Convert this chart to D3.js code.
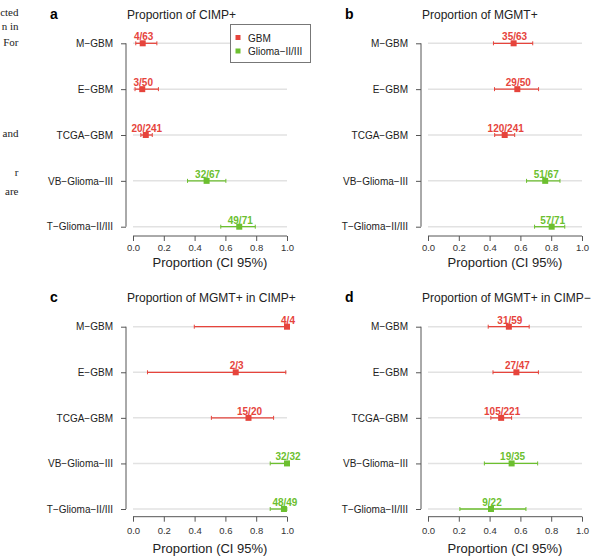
<!DOCTYPE html>
<html>
<head>
<meta charset="utf-8">
<script src="https://cdn.jsdelivr.net/npm/d3@7"></script>
<style>
  body { margin: 0; background: #fff; }
  text { font-family: "Liberation Sans", Arial, sans-serif; }
</style>
</head>
<body>
<div id="my_dataviz"></div>
<script>
// data
var categories = ["M\u2212GBM", "E\u2212GBM", "TCGA\u2212GBM", "VB\u2212Glioma\u2212III", "T\u2212Glioma\u2212II/III"];
var groups = ["GBM", "GBM", "GBM", "Glioma", "Glioma"];
var legendLabels = ["GBM", "Glioma\u2212II/III"];
var xTicks = [0, 0.2, 0.4, 0.6, 0.8, 1.0];

var countsA = ["4/63", "3/50", "20/241", "32/67", "49/71"];
var propA = [0.063, 0.060, 0.083, 0.478, 0.690];
var lowA = [0.018, 0.013, 0.051, 0.354, 0.570];
var highA = [0.155, 0.165, 0.125, 0.603, 0.794];

var countsB = ["35/63", "29/50", "120/241", "51/67", "57/71"];
var propB = [0.556, 0.580, 0.498, 0.761, 0.803];
var lowB = [0.425, 0.432, 0.433, 0.640, 0.692];
var highB = [0.680, 0.718, 0.563, 0.857, 0.888];

var countsC = ["4/4", "2/3", "15/20", "32/32", "48/49"];
var propC = [1.0, 0.667, 0.750, 1.0, 0.980];
var lowC = [0.398, 0.094, 0.509, 0.891, 0.891];
var highC = [1.0, 0.992, 0.913, 1.0, 0.999];

var countsD = ["31/59", "27/47", "105/221", "19/35", "9/22"];
var propD = [0.525, 0.574, 0.475, 0.543, 0.409];
var lowD = [0.391, 0.422, 0.408, 0.366, 0.207];
var highD = [0.657, 0.717, 0.543, 0.712, 0.636];

var color = d3.scaleOrdinal().domain(["GBM", "Glioma"]).range(["#e6443c", "#6cbf2f"]);
var axisColor = "#555";

var svg = d3.select("#my_dataviz")
  .append("svg")
    .attr("width", 594)
    .attr("height", 559);

// cropped text from the page beside the figure
var pageText = [["cted", 12], ["n in", 26], ["For", 42], ["and", 133], ["r", 172], ["are", 191]];
svg.selectAll("pagetext")
  .data(pageText)
  .enter()
  .append("text")
    .attr("x", 18.5)
    .attr("y", function(d) { return d[1] + 4; })
    .attr("text-anchor", "end")
    .style("font-family", "'Liberation Serif', 'Times New Roman', serif")
    .style("font-size", "11px")
    .attr("fill", "#222")
    .text(function(d) { return d[0]; });

function drawPanel(ox, oy, letter, title, counts, prop, low, high, yTop, yBot, axisY, tickGap, titleGap) {
  var g = svg.append("g").attr("transform", "translate(" + ox + "," + oy + ")");

  var x = d3.scaleLinear().domain([0, 1]).range([133, 287]);
  var y = d3.scalePoint().domain(categories).range([yTop, yBot]);

  var rows = categories.map(function(c, i) {
    return {cat: c, grp: groups[i], n: counts[i], p: prop[i], lo: low[i], hi: high[i]};
  });

  g.append("text")
    .attr("x", 50).attr("y", 19)
    .style("font-size", "14px").style("font-weight", "bold")
    .text(letter);
  g.append("text")
    .attr("x", 127).attr("y", 19)
    .style("font-size", "12px")
    .attr("fill", "#222")
    .text(title);

  // light guide line for each row
  g.selectAll("guide")
    .data(rows)
    .enter()
    .append("line")
      .attr("x1", x(0)).attr("x2", x(1))
      .attr("y1", function(d) { return y(d.cat); })
      .attr("y2", function(d) { return y(d.cat); })
      .attr("stroke", "#e2e2e2")
      .attr("stroke-width", 1.5);

  // y axis
  var yAxis = g.append("g")
    .attr("transform", "translate(126,0)")
    .call(d3.axisLeft(y).tickSize(5).tickPadding(8));
  yAxis.select(".domain").attr("d", "M0," + yTop + "V" + yBot).attr("stroke", axisColor);
  yAxis.selectAll(".tick line").attr("stroke", axisColor);
  yAxis.selectAll(".tick text")
    .style("font-size", "10px")
    .style("font-family", "'Liberation Sans', Arial, sans-serif")
    .attr("fill", "#222");

  // x axis
  var xAxis = g.append("g")
    .attr("transform", "translate(0," + axisY + ")")
    .call(d3.axisBottom(x).tickValues(xTicks).tickFormat(d3.format(".1f")).tickSize(5).tickPadding(tickGap));
  xAxis.select(".domain").attr("d", "M" + x(0) + ",0H" + x(1)).attr("stroke", axisColor);
  xAxis.selectAll(".tick line").attr("stroke", axisColor);
  xAxis.selectAll(".tick text")
    .style("font-size", "9.5px")
    .style("font-family", "'Liberation Sans', Arial, sans-serif")
    .attr("fill", "#333");

  g.append("text")
    .attr("x", (x(0) + x(1)) / 2)
    .attr("y", axisY + titleGap)
    .attr("text-anchor", "middle")
    .style("font-size", "13px")
    .attr("fill", "#222")
    .text("Proportion (CI 95%)");

  // confidence intervals
  g.selectAll("ci")
    .data(rows)
    .enter()
    .append("line")
      .attr("x1", function(d) { return x(d.lo); })
      .attr("x2", function(d) { return x(d.hi); })
      .attr("y1", function(d) { return y(d.cat); })
      .attr("y2", function(d) { return y(d.cat); })
      .attr("stroke", function(d) { return color(d.grp); })
      .attr("stroke-width", 1.3);

  ["lo", "hi"].forEach(function(k) {
    g.selectAll("cap" + k)
      .data(rows)
      .enter()
      .append("line")
        .attr("x1", function(d) { return x(d[k]); })
        .attr("x2", function(d) { return x(d[k]); })
        .attr("y1", function(d) { return y(d.cat) - 2; })
        .attr("y2", function(d) { return y(d.cat) + 2; })
        .attr("stroke", function(d) { return color(d.grp); })
        .attr("stroke-width", 1);
  });

  g.selectAll("pt")
    .data(rows)
    .enter()
    .append("rect")
      .attr("x", function(d) { return x(d.p) - 3; })
      .attr("y", function(d) { return y(d.cat) - 3; })
      .attr("width", 6)
      .attr("height", 6)
      .attr("fill", function(d) { return color(d.grp); });

  g.selectAll("count")
    .data(rows)
    .enter()
    .append("text")
      .attr("x", function(d) { return x(d.p) + 1; })
      .attr("y", function(d) { return y(d.cat) - 3; })
      .attr("text-anchor", "middle")
      .style("font-size", "10px")
      .style("font-weight", "bold")
      .attr("fill", function(d) { return color(d.grp); })
      .text(function(d) { return d.n; });

  return g;
}

var gA = drawPanel(0, 0, "a", "Proportion of CIMP+", countsA, propA, lowA, highA, 43.3, 226.7, 236, 3, 31);
drawPanel(295, 0, "b", "Proportion of MGMT+", countsB, propB, lowB, highB, 43.3, 226.7, 236, 3, 31);
drawPanel(0, 283, "c", "Proportion of MGMT+ in CIMP+", countsC, propC, lowC, highC, 43.7, 226, 233.7, 6, 36);
drawPanel(295, 283, "d", "Proportion of MGMT+ in CIMP\u2212", countsD, propD, lowD, highD, 43.7, 226, 233.7, 6, 36);

// legend in panel a
var legend = gA.append("g");
legend.append("rect")
  .attr("x", 230.5).attr("y", 24.5)
  .attr("width", 80).attr("height", 38)
  .attr("fill", "#fff")
  .attr("stroke", "#777");
legend.selectAll("lg")
  .data(legendLabels)
  .enter()
  .append("rect")
    .attr("x", 235.5)
    .attr("y", function(d, i) { return 35 + i * 13.5; })
    .attr("width", 5).attr("height", 5)
    .attr("fill", function(d, i) { return color(i === 0 ? "GBM" : "Glioma"); });
legend.selectAll("lt")
  .data(legendLabels)
  .enter()
  .append("text")
    .attr("x", 248)
    .attr("y", function(d, i) { return 41.5 + i * 13.5; })
    .style("font-size", "10px")
    .attr("fill", "#222")
    .text(function(d) { return d; });
</script>
</body>
</html>
